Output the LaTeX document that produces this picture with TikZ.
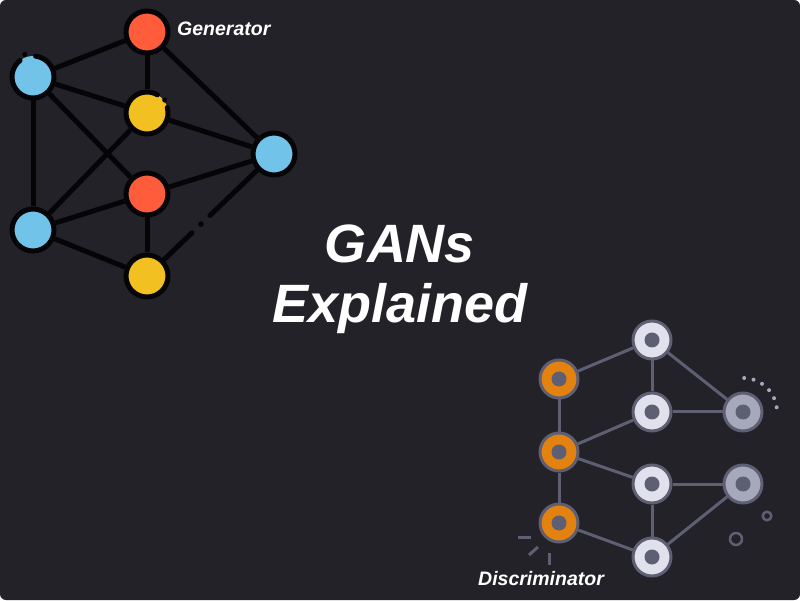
\documentclass[tikz,border=0pt]{standalone}
\usepackage{fontspec}
\newfontfamily\labfont{Liberation Sans}
\usetikzlibrary{calc}
\definecolor{bg}{RGB}{35,34,41}
\definecolor{gred}{RGB}{255,92,59}
\definecolor{gyel}{RGB}{242,192,32}
\definecolor{gblue}{RGB}{114,195,234}
\definecolor{gblack}{RGB}{5,5,8}
\definecolor{dorange}{RGB}{227,130,15}
\definecolor{dwhite}{RGB}{224,225,236}
\definecolor{dgrey}{RGB}{166,169,187}
\definecolor{dstroke}{RGB}{94,95,115}
\begin{document}
\begin{tikzpicture}[x=1pt,y=1pt,
  gnode/.style={circle, draw=gblack, line width=5pt, minimum size=42pt, inner sep=0pt},
  gfill/.style={circle, line width=5pt, minimum size=42pt, inner sep=0pt},
  gline/.style={draw=gblack, line width=5pt},
  dnode/.style={circle, draw=dstroke, line width=3pt, minimum size=38pt, inner sep=0pt,
    path picture={\fill[dstroke] (path picture bounding box.center) circle (7.5pt);}},
  dline/.style={draw=dstroke, line width=3pt},
  title/.style={text=white, font=\labfont\bfseries\itshape\fontsize{54}{60}\selectfont, inner sep=0pt},
  lab/.style={text=white, font=\labfont\bfseries\itshape\fontsize{19.5}{22}\selectfont, inner sep=0pt}]
\useasboundingbox (0,0) rectangle (800,600);
\fill[white] (0,0) rectangle (800,600);
\fill[bg, rounded corners=6pt] (0,0) rectangle (800,600);

% Generator nodes
\node[gnode, fill=gred] (R1) at (147,568) {};
\node[gfill, fill=gblue] (B1) at (33,523) {};
\node[gfill, fill=gyel] (Y1) at (147,487) {};
\node[gnode, fill=gblue] (B3) at (274,446) {};
\node[gnode, fill=gred] (R2) at (147,406) {};
\node[gnode, fill=gblue] (B2) at (33,370) {};
\node[gnode, fill=gyel] (Y2) at (147,324) {};
% outlines with gaps
\draw[gline, line cap=round] ([shift={(128:21pt)}]B1.center) arc[start angle=128, end angle=443, radius=21pt];
\fill[gblack] ([shift={(110:24pt)}]B1.center) circle (2.6pt);
\draw[gline, line cap=round] ([shift={(60:21pt)}]Y1.center) arc[start angle=60, end angle=375, radius=21pt];
\fill[gblack] ([shift={(36:22pt)}]Y1.center) circle (2.6pt);

% Generator edges
\draw[gline] (B1) -- (R1);
\draw[gline] (B1) -- (Y1);
\draw[gline] (B1) -- (R2);
\draw[gline] (B1) -- (B2);
\draw[gline] (R1) -- (Y1);
\draw[gline] (R1) -- (B3);
\draw[gline] (Y1) -- (B3);
\draw[gline] (Y1) -- (B2);
\draw[gline] (R2) -- (B3);
\draw[gline] (R2) -- (B2);
\draw[gline] (R2) -- (Y2);
\draw[gline] (B2) -- (Y2);
\coordinate (ga) at ($(Y2)!0.354!(B3)$);
\coordinate (gd) at ($(Y2)!0.425!(B3)$);
\coordinate (gb) at ($(Y2)!0.496!(B3)$);
\draw[gline, line cap=round] (Y2) -- (ga);
\fill[gblack] (gd) circle (2.8pt);
\draw[gline, line cap=round] (gb) -- (B3);

% Discriminator nodes
\node[dnode, fill=dorange] (O1) at (559,221) {};
\node[dnode, fill=dorange] (O2) at (559,148) {};
\node[dnode, fill=dorange] (O3) at (559,77) {};
\node[dnode, fill=dwhite] (W1) at (652,260) {};
\node[dnode, fill=dwhite] (W2) at (652,188) {};
\node[dnode, fill=dwhite] (W3) at (652,116) {};
\node[dnode, fill=dwhite] (W4) at (652,43) {};
\node[dnode, fill=dgrey] (G1) at (743,188) {};
\node[dnode, fill=dgrey] (G2) at (743,116) {};

% Discriminator edges
\draw[dline] (O1) -- (W1);
\draw[dline] (O1) -- (O2);
\draw[dline] (O2) -- (W2);
\draw[dline] (O2) -- (W3);
\draw[dline] (O2) -- (O3);
\draw[dline] (O3) -- (W4);
\draw[dline] (W1) -- (W2);
\draw[dline] (W1) -- (G1);
\draw[dline] (W2) -- (G1);
\draw[dline] (W3) -- (G2);
\draw[dline] (W3) -- (W4);
\draw[dline] (W4) -- (G2);

% decorations
\foreach \a in {88,72,56,40,24,8}
  \fill[dgrey] ([shift={(\a:34pt)}]G1.center) circle (2pt);
\draw[dstroke, line width=2.5pt] (767,84) circle (4.3pt);
\draw[dstroke, line width=2.5pt] (736,61) circle (6pt);
\draw[dstroke, line width=3pt] (518,63) -- (531,63);
\draw[dstroke, line width=3pt] (529,45) -- (538,53);
\draw[dstroke, line width=3pt] (549,47) -- (549,35);

% Texts
\node[lab, anchor=base west] (gen) at (177,564) {Generator};
\node[lab, anchor=base west] (dis) at (478,15) {Discriminator};
\node[title, anchor=base] (t1) at (400,337) {GANs};
\node[title, anchor=base] (t2) at (400,277) {Explained};
\end{tikzpicture}
\end{document}
